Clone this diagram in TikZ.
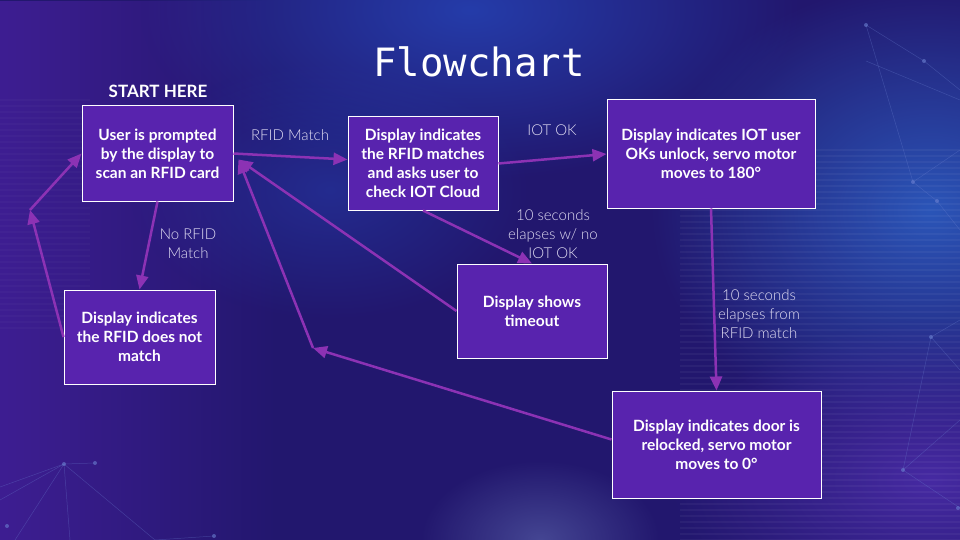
\documentclass[tikz,border=0pt]{standalone}
\usepackage{fontspec}
\setmainfont{Lato}
\newfontfamily\lightfont{Lato Light}
\newfontfamily\titlefont{DejaVu Sans Mono}
\usetikzlibrary{arrows.meta,fadings}
\definecolor{bgbase}{HTML}{22176E}
\definecolor{bgleft}{HTML}{3E1E92}
\definecolor{bgblue}{HTML}{2540B0}
\definecolor{bgblue2}{HTML}{2C5CC0}
\definecolor{bgpurple}{HTML}{4A2CA8}
\definecolor{bglight}{HTML}{6F7FC0}
\definecolor{boxfill}{HTML}{5823AE}
\definecolor{arrowc}{HTML}{8C32B4}
\definecolor{lblc}{HTML}{E2DEF4}
\definecolor{netc}{HTML}{6A7FD0}
\tikzfading[name=glow, inner color=transparent!0, outer color=transparent!100]
\tikzfading[name=fadeR, left color=transparent!0, right color=transparent!100]
\begin{document}
\begin{tikzpicture}[x=1pt,y=-1pt,
  box/.style={draw=white, line width=1pt, fill=boxfill, text=white,
    font=\bfseries\fontsize{15.5}{19}\selectfont, align=center, inner sep=0pt},
  flow/.style={draw=arrowc, line width=2.5pt, -{Triangle[length=14pt,width=12pt]}},
  lbl/.style={text=lblc, font=\lightfont\fontsize{15}{19}\selectfont, align=center, inner sep=0pt},
  net/.style={draw=netc, line width=0.5pt, opacity=0.35},
  dot/.style={fill=netc, opacity=0.6}]
\useasboundingbox (0,0) rectangle (960,540);
% ---------- background ----------
\fill[bgbase] (0,0) rectangle (960,540);
\fill[bgleft, path fading=fadeR] (0,0) rectangle (280,540);
\fill[bgblue, path fading=glow, opacity=0.9] (470,10) ellipse [x radius=330pt, y radius=170pt];
\fill[bgblue, path fading=glow, opacity=0.5] (330,190) ellipse [x radius=200pt, y radius=130pt];
\fill[bgblue2, path fading=glow, opacity=0.9] (930,210) ellipse [x radius=280pt, y radius=230pt];
\fill[bgpurple, path fading=glow, opacity=0.9] (930,480) ellipse [x radius=260pt, y radius=160pt];
\fill[bglight, path fading=glow, opacity=0.45] (540,540) ellipse [x radius=120pt, y radius=80pt];
\foreach \yy in {150,156,...,540} {
  \draw[white, opacity=0.045, line width=2pt] (680,\yy) -- (960,\yy);
}
\foreach \yy in {100,106,...,330} {
  \draw[white, opacity=0.025, line width=2pt] (0,\yy) -- (90,\yy);
}
% network decoration
\draw[net] (866,25) -- (924,61) -- (960,90);
\draw[net] (866,25) -- (913,182) -- (937,201) -- (960,230);
\draw[net] (866,61) -- (960,100);
\draw[net] (913,182) -- (960,150);
\draw[net] (931,337) -- (903,470) -- (960,508);
\draw[net] (931,337) -- (960,320);
\draw[net] (903,470) -- (960,420);
\draw[net] (931,337) -- (960,370);
\foreach \p in {(866,25),(924,61),(913,182),(937,201),(931,337),(903,470),(958,508)}
  \fill[dot] \p circle (2pt);
\draw[net] (0,487) -- (64,464) -- (95,463);
\draw[net] (0,500) -- (64,464) -- (15,540);
\draw[net] (64,464) -- (70,540);
\draw[net] (64,464) -- (155,540);
\draw[net] (155,540) -- (214,536);
\foreach \p in {(64,464),(95,463),(7,526),(214,536)}
  \fill[dot] \p circle (2pt);
% ---------- title ----------
\node[text=white, font=\titlefont\fontsize{39}{44}\selectfont, inner sep=0pt] (title) at (479,62) {Flowchart};
\node[text=white, font=\bfseries\fontsize{17}{19}\selectfont, inner sep=0pt] (start) at (158,91) {START HERE};
% ---------- boxes ----------
\node[box, minimum width=151pt, minimum height=95pt] (A) at (157.5,153.5)
  {User is prompted\\by the display to\\scan an RFID card};
\node[box, minimum width=150pt, minimum height=93pt] (B) at (423,163.5)
  {Display indicates\\the RFID matches\\and asks user to\\check IOT Cloud};
\node[box, minimum width=208pt, minimum height=108pt] (C) at (711,154)
  {Display indicates IOT user\\OKs unlock, servo motor\\moves to 180°};
\node[box, minimum width=150pt, minimum height=94pt] (D) at (532,311)
  {Display shows\\timeout};
\node[box, minimum width=151pt, minimum height=94pt] (E) at (139.5,337)
  {Display indicates\\the RFID does not\\match};
\node[box, minimum width=209pt, minimum height=107pt] (F) at (716.5,444.5)
  {Display indicates door is\\relocked, servo motor\\moves to 0°};
% ---------- bend points ----------
\coordinate (p1) at (30,210);
\coordinate (p2) at (313,348);
\coordinate (Ain) at ([xshift=5pt,yshift=-6pt]A.east);
% ---------- connectors ----------
\draw[flow] (A.east) -- ([yshift=4pt]B.west);
\draw[flow] (B.east) -- (C.west);
\draw[flow] (B.south) -- (D.north);
\draw[flow] (C.south) -- (F.north);
\draw[flow] (A.south) -- (E.north);
\draw[flow] (E.west) -- (p1);
\draw[flow] (p1) -- (A.west);
\draw[flow] (D.west) -- (Ain);
\draw[flow] ([yshift=5pt]F.west) -- (p2);
\draw[flow] (p2) -- (Ain);
% ---------- labels ----------
\node[lbl] (l1) at (290,135) {RFID Match};
\node[lbl] (l2) at (552,130) {IOT OK};
\node[lbl] (l3) at (553,234) {10 seconds\\elapses w/ no\\IOT OK};
\node[lbl] (l4) at (188,244) {No RFID\\Match};
\node[lbl] (l5) at (759,314) {10 seconds\\elapses from\\RFID match};
\end{tikzpicture}
\end{document}
